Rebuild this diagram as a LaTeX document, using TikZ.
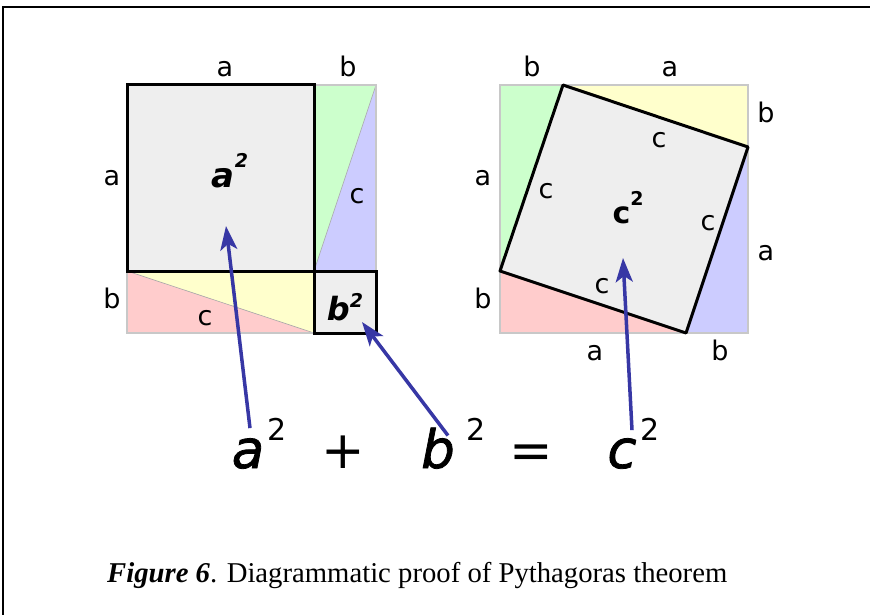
\documentclass[tikz,border=0pt]{standalone}
\usepackage{fontspec}
\setmainfont{Liberation Serif}
\newfontfamily\figfont{DejaVu Sans}
\newfontfamily\eqfont[ItalicFeatures={FakeBold=1.5}]{DejaVu Sans}
\usetikzlibrary{arrows.meta}
\definecolor{sqgray}{RGB}{238,238,238}
\definecolor{trigreen}{RGB}{204,255,204}
\definecolor{triyellow}{RGB}{255,255,204}
\definecolor{triblue}{RGB}{204,204,255}
\definecolor{tripink}{RGB}{255,204,204}
\definecolor{arrowblue}{RGB}{55,55,165}
\definecolor{edgegray}{RGB}{200,200,200}

\begin{document}
\begin{tikzpicture}[
x=1pt, y=-1pt, >={Stealth[length=24pt, width=17pt, inset=6pt]},
side/.style={font=\figfont\fontsize{27}{27}\selectfont, inner sep=0pt, anchor=base},
area/.style={font=\figfont\bfseries\itshape, inner sep=0pt, anchor=base},
eqn/.style={font=\figfont\fontsize{52}{52}\selectfont, inner sep=0pt, anchor=base},
eqvar/.style={eqn, font=\eqfont\itshape\fontsize{53}{53}\selectfont},
sup/.style={font=\figfont\fontsize{30}{30}\selectfont, inner sep=0pt, anchor=base},
box/.style={draw=black, line width=3pt, fill=sqgray},
outer/.style={draw=edgegray, line width=1.5pt},
diag/.style={draw=gray!70, line width=0.6pt},
pointer/.style={->, draw=arrowblue, line width=3.5pt}
]
\useasboundingbox (0,0) rectangle (870,615);
\draw[line width=2pt] (3,615) -- (3,7) -- (870,7);

% left square
\fill[trigreen] (314,85) -- (376,85) -- (314,271) -- cycle;
\fill[triblue] (376,85) -- (376,271) -- (314,271) -- cycle;
\fill[triyellow] (127,271) -- (314,271) -- (314,333) -- cycle;
\fill[tripink] (127,271) -- (127,333) -- (314,333) -- cycle;
\draw[diag] (376,85) -- (314,271);
\draw[diag] (127,271) -- (314,333);
\draw[outer] (127,85) rectangle (376,333);
\draw[box] (127,85) rectangle (314,271);
\draw[box] (314,271) rectangle (376,333);

% right square
\fill[trigreen] (500,85) -- (563,85) -- (500,271) -- cycle;
\fill[triyellow] (563,85) -- (748,85) -- (748,147) -- cycle;
\fill[triblue] (748,147) -- (748,333) -- (686,333) -- cycle;
\fill[tripink] (500,271) -- (500,333) -- (686,333) -- cycle;
\draw[outer] (500,85) rectangle (748,333);
\draw[box, line join=round] (563,85) -- (748,147) -- (686,333) -- (500,271) -- cycle;

% side labels
\node[side] (la1) at (225,77) {a};
\node[side] (lb1) at (348,77) {b};
\node[side] (la2) at (112,185) {a};
\node[side] (lb2) at (112,308) {b};
\node[side] (lc1) at (357,203) {c};
\node[side] (lc2) at (205,325) {c};
\node[side] (rb1) at (532,77) {b};
\node[side] (ra1) at (670,77) {a};
\node[side] (rb2) at (766,123) {b};
\node[side] (ra2) at (766,260) {a};
\node[side] (ra3) at (595,360) {a};
\node[side] (rb3) at (720,360) {b};
\node[side] (ra4) at (483,185) {a};
\node[side] (rb4) at (483,308) {b};
\node[side] (rc1) at (659,148) {c};
\node[side] (rc2) at (546,198) {c};
\node[side] (rc3) at (708,230) {c};
\node[side] (rc4) at (602,293) {c};

% areas
\node[area, font=\figfont\bfseries\itshape\fontsize{34}{34}\selectfont] (asq) at (230,187)
  {a\raisebox{20pt}{\fontsize{19}{19}\selectfont 2}};
\node[area, font=\figfont\bfseries\itshape\fontsize{32}{32}\selectfont] (bsq) at (345,320)
  {b\raisebox{13pt}{\fontsize{19}{19}\selectfont 2}};
\node[area, font=\figfont\bfseries\fontsize{30}{30}\selectfont] (csq) at (628,223)
  {c\raisebox{18pt}{\fontsize{19}{19}\selectfont 2}};
\coordinate (tipa) at (226,226);
\coordinate (tipb) at (362,322);
\coordinate (tipc) at (623,258);

% equation
\node[eqvar] (eqa) at (248,468) {a};
\node[sup] (eqasq) at (277,440) {2};
\node[eqn] (plus) at (343,468) {+};
\node[eqvar] (eqb) at (438,468) {b};
\node[sup] (eqbsq) at (476,440) {2};
\node[eqn] (equal) at (531,468) {=};
\node[eqvar] (eqc) at (622,468) {c};
\node[sup] (eqcsq) at (650,440) {2};

\draw[pointer] ([shift={(2pt,10pt)}]eqa.north) -- (tipa);
\draw[pointer] ([shift={(10pt,-8pt)}]eqb.north) -- (tipb);
\draw[pointer] ([shift={(10pt,8pt)}]eqc.north) -- (tipc);

% caption
\node[anchor=base west, inner sep=0pt, font=\fontsize{28.7}{28.7}\selectfont] (caption) at (107,582)
  {\textbf{\textit{Figure 6}}. Diagrammatic proof of Pythagoras theorem};
\end{tikzpicture}
\end{document}
